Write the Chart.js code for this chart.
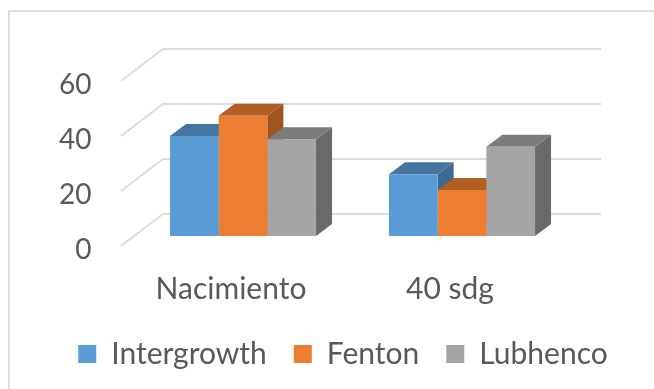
<!DOCTYPE html>
<html>
<head>
<meta charset="utf-8">
<title>Peso por referencia</title>
<script src="https://cdn.jsdelivr.net/npm/chart.js@4/dist/chart.umd.js"></script>
<style>
  html, body { margin: 0; padding: 0; background: #fff; }
  canvas { display: block; }
</style>
</head>
<body>
<canvas id="grafico" width="654" height="389"></canvas>
<script>
const categorias = ['Nacimiento', '40 sdg'];
const intergrowth = [36.4, 22.5];
const fenton = [43.7, 16.7];
const lubhenco = [35.2, 32.5];
const ticksY = [0, 20, 40, 60];

const coloresFrente = ['#5b9bd5', '#ed7d31', '#a5a5a5'];
const coloresTapa = ['#4575a1', '#b35e25', '#7c7c7c'];
const coloresLado = ['#3e6a91', '#a05420', '#696969'];

// Profundidad de las barras y del plano de la rejilla, en px
const prof = { dx: 16, dy: -12 };
const rejillaFondo = { dx: 29.5, dy: -22 };
const rejillaFrente = { dx: -12.5, dy: 10 };

const COLOR_TEXTO = '#595959';
const COLOR_REJILLA = '#dcdcdc';

// Marco del gráfico (sólo arriba e izquierda)
const marco = {
  id: 'marco',
  beforeDraw(chart) {
    const ctx = chart.ctx;
    ctx.save();
    ctx.strokeStyle = '#dedede';
    ctx.lineWidth = 2;
    ctx.beginPath();
    ctx.moveTo(9, 389);
    ctx.lineTo(9, 11);
    ctx.lineTo(654, 11);
    ctx.stroke();
    ctx.restore();
  }
};

// Rejilla en perspectiva: diagonal del suelo/pared y línea del fondo
const rejilla3d = {
  id: 'rejilla3d',
  beforeDatasetsDraw(chart) {
    const { ctx, chartArea, scales } = chart;
    ctx.save();
    ctx.strokeStyle = COLOR_REJILLA;
    ctx.lineWidth = 2;
    ticksY.forEach(v => {
      const y = scales.y.getPixelForValue(v);
      ctx.beginPath();
      ctx.moveTo(chartArea.left + rejillaFrente.dx, y + rejillaFrente.dy);
      ctx.lineTo(chartArea.left + rejillaFondo.dx, y + rejillaFondo.dy);
      ctx.lineTo(chartArea.right + rejillaFondo.dx, y + rejillaFondo.dy);
      ctx.stroke();
    });
    ctx.restore();
  }
};

// Caras superior y lateral de cada barra, a partir de los elementos del gráfico
const barras3d = {
  id: 'barras3d',
  beforeDatasetsDraw(chart) {
    const ctx = chart.ctx;
    const poligono = (color, puntos) => {
      ctx.fillStyle = color;
      ctx.beginPath();
      puntos.forEach((p, i) => i ? ctx.lineTo(p[0], p[1]) : ctx.moveTo(p[0], p[1]));
      ctx.closePath();
      ctx.fill();
    };
    ctx.save();
    chart.data.datasets.forEach((ds, i) => {
      chart.getDatasetMeta(i).data.forEach(bar => {
        const izq = bar.x - bar.width / 2;
        const der = bar.x + bar.width / 2;
        poligono(coloresLado[i], [
          [der, bar.y], [der + prof.dx, bar.y + prof.dy],
          [der + prof.dx, bar.base + prof.dy], [der, bar.base]
        ]);
        poligono(coloresTapa[i], [
          [izq, bar.y], [izq + prof.dx, bar.y + prof.dy],
          [der + prof.dx, bar.y + prof.dy], [der, bar.y]
        ]);
      });
    });
    ctx.restore();
  }
};

// Desplaza la leyenda dentro del hueco inferior
const moverLeyenda = {
  id: 'moverLeyenda',
  afterLayout(chart) {
    chart.legend.left += 16;
    chart.legend.right += 16;
    chart.legend.top -= 10;
    chart.legend.bottom -= 10;
  }
};

new Chart(document.getElementById('grafico'), {
  type: 'bar',
  data: {
    labels: categorias,
    datasets: [
      { label: 'Intergrowth', data: intergrowth, backgroundColor: coloresFrente[0] },
      { label: 'Fenton', data: fenton, backgroundColor: coloresFrente[1] },
      { label: 'Lubhenco', data: lubhenco, backgroundColor: coloresFrente[2] }
    ]
  },
  options: {
    responsive: false,
    animation: false,
    layout: { padding: { top: 71, right: 0, left: 0, bottom: 0 } },
    datasets: { bar: { categoryPercentage: 0.667, barPercentage: 1 } },
    plugins: {
      tooltip: { enabled: false },
      legend: {
        position: 'bottom',
        labels: {
          boxWidth: 18,
          boxHeight: 18,
          padding: 27,
          color: COLOR_TEXTO,
          font: { family: 'Lato', size: 30 }
        }
      }
    },
    scales: {
      x: {
        grid: { display: false },
        border: { display: false },
        afterFit(scale) { scale.height = 153 - scale.chart.legend.height; },
        ticks: {
          padding: 27,
          labelOffset: -12,
          color: COLOR_TEXTO,
          font: { family: 'Lato', size: 30 }
        }
      },
      y: {
        min: 0,
        max: 60,
        grid: { display: false },
        border: { display: false },
        afterFit(scale) { scale.width = 133.5; },
        afterBuildTicks(scale) { scale.ticks = ticksY.map(value => ({ value })); },
        ticks: {
          padding: 34,
          labelOffset: 14,
          color: COLOR_TEXTO,
          font: { family: 'Lato', size: 28 }
        }
      },
      // Eje vacío a la derecha: reserva el margen sin estrechar la leyenda
      margenDerecho: {
        position: 'right',
        grid: { display: false },
        border: { display: false },
        ticks: { display: false },
        afterFit(scale) { scale.width = 82.5; }
      }
    }
  },
  plugins: [marco, rejilla3d, barras3d, moverLeyenda]
});
</script>
</body>
</html>
